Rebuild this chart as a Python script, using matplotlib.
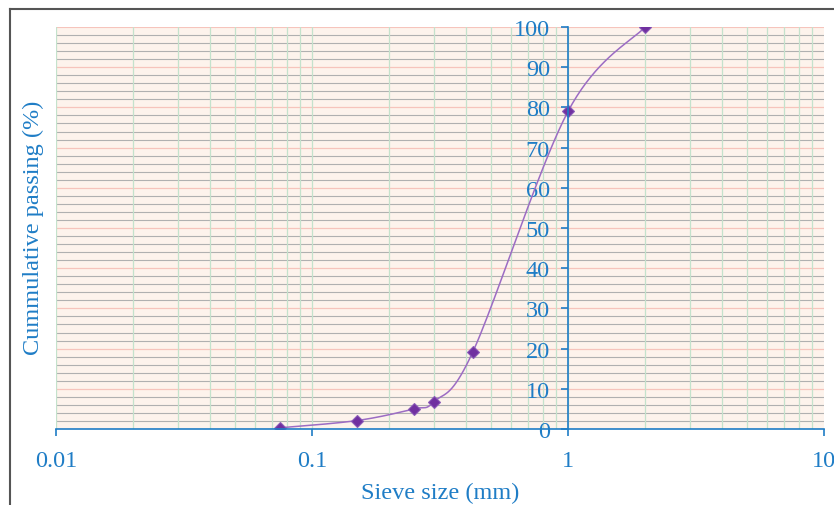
# Grain size distribution curve (sieve analysis)

import matplotlib.pyplot as plt
import numpy as np
from matplotlib.ticker import FixedLocator, FuncFormatter

# sieve data
sieve_mm = [0.075, 0.15, 0.25, 0.3, 0.425, 1.0, 2.0]
passing_pct = [0.3, 2.1, 5.0, 6.8, 19.2, 79.0, 100.0]

x_ticks = [0.01, 0.1, 1, 10]
y_ticks = [0, 10, 20, 30, 40, 50, 60, 70, 80, 90, 100]

blue = '#1f7dc6'
purple_mk = '#7030a0'
purple_ln = '#9c6cc4'


# Excel-like smoothed line: Catmull-Rom bezier in display space
def smooth_curve(ax, xs, ys, n=40):
    pts = ax.transData.transform(np.column_stack([xs, ys]))
    out = []
    for i in range(len(pts) - 1):
        p0 = pts[max(i - 1, 0)]
        p1 = pts[i]
        p2 = pts[i + 1]
        p3 = pts[min(i + 2, len(pts) - 1)]
        c1 = p1 + (p2 - p0) / 6
        c2 = p2 - (p3 - p1) / 6
        t = np.linspace(0, 1, n)[:, None]
        seg = ((1 - t) ** 3) * p1 + 3 * ((1 - t) ** 2) * t * c1 \
            + 3 * (1 - t) * t ** 2 * c2 + t ** 3 * p2
        out.append(seg)
    out = np.vstack(out)
    d = ax.transData.inverted().transform(out)
    return d[:, 0], d[:, 1]


plt.rcParams['font.family'] = ['Liberation Serif', 'DejaVu Serif']

fig = plt.figure(figsize=(8.34, 5.06), dpi=100)
ax = fig.add_axes([56 / 834, 1 - 430 / 506, 768 / 834, 402 / 506])
ax.set_xscale('log')
ax.set_xlim(0.01, 10)
ax.set_ylim(0, 100)
ax.set_facecolor('#fdf3ec')

# grid lines: graph-paper style
for v in range(2, 100, 2):
    if v % 10 == 0:
        ax.axhline(v, color='#f6c4bc', lw=0.9, zorder=1)
    else:
        ax.axhline(v, color='#b0b0b0', lw=0.8, zorder=1)
ax.axhline(100, color='#f6c4bc', lw=1.5, zorder=1)
for dec in [0.01, 0.1, 1]:
    for m in range(1, 10):
        ax.axvline(dec * m, color='#c4e2cc', lw=0.9, zorder=1)

# curve and points
fig.canvas.draw()
sx, sy = smooth_curve(ax, sieve_mm, passing_pct)
ax.plot(sx, sy, color=purple_ln, lw=1.1, zorder=3)
ax.plot(sieve_mm, passing_pct, ls='none', marker='D', ms=6,
        color=purple_mk, mec='#8a5ab8', mew=0.8, zorder=4)

# axes styling
for s in ['top', 'right']:
    ax.spines[s].set_visible(False)
ax.spines['left'].set_position(('data', 1))
ax.spines['left'].set_color(blue)
ax.spines['bottom'].set_color(blue)
ax.spines['left'].set_linewidth(1.2)
ax.spines['bottom'].set_linewidth(1.2)
ax.spines['left'].set_zorder(5)
ax.spines['bottom'].set_zorder(5)

ax.xaxis.set_major_locator(FixedLocator(x_ticks))
ax.xaxis.set_minor_locator(FixedLocator([]))
ax.xaxis.set_major_formatter(FuncFormatter(lambda v, p: f'{v:g}'))
ax.set_yticks(y_ticks)
ax.tick_params(axis='both', colors=blue, labelcolor=blue, labelsize=17.5,
               length=5, width=1.2, direction='out')
ax.tick_params(axis='x', pad=10)
ax.tick_params(axis='y', pad=8)

ax.set_xlabel('Sieve size (mm)', color=blue, fontsize=17.5, labelpad=8)
fig.text(33 / 834, 1 - 228 / 506, 'Cummulative passing (%)', color=blue,
         fontsize=17.5, rotation=90, ha='center', va='center')

# outer frame (top and left edges visible)
fig.add_artist(plt.Line2D([10 / 834, 1], [1 - 10 / 506] * 2,
                          transform=fig.transFigure, color='#555555', lw=1.5))
fig.add_artist(plt.Line2D([10 / 834] * 2, [0, 1 - 10 / 506],
                          transform=fig.transFigure, color='#555555', lw=1.5))

fig.savefig('out.png', dpi=100)
